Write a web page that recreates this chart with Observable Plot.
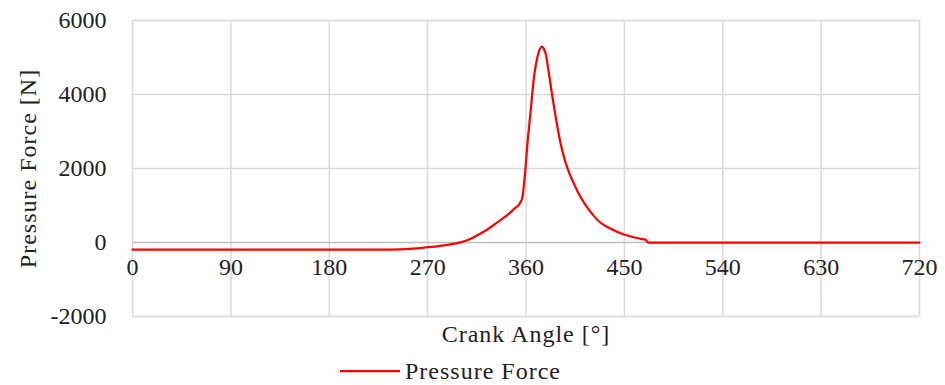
<!DOCTYPE html>
<html><head><meta charset="utf-8">
<script src="https://cdn.jsdelivr.net/npm/d3@7"></script>
<script src="https://cdn.jsdelivr.net/npm/@observablehq/plot@0.6"></script>
<style>
body{margin:0;background:#fff;font-family:"Liberation Serif",serif;}
#legend{position:relative;height:30px;width:945px}
.ttl{letter-spacing:1px}
</style></head><body><div id="chart"></div><div id="legend"></div>
<script>
const angles = [0,90,180,230,245,260,270,280,290,300,310,318,326,334,342,350,354.5,356.7,358.8,361.3,364.3,367.3,370.4,372.5,374.4,376.3,378,381,384.2,387.2,391.7,396,400,404,408,413,418,422,428,437.5,449.6,465,469.5,471.6,540,630,720];
const forces = [-195,-195,-195,-195,-185,-160,-128,-95,-55,5,110,235,380,550,720,930,1062,1225,1765,2667,3568,4468,5008,5220,5297,5240,5100,4560,3930,3387,2667,2180,1850,1580,1330,1080,870,720,540,370,216,100,72,0,0,0,0];
const xTicks = [0,90,180,270,360,450,540,630,720];
const yTicks = [-2000,0,2000,4000,6000];
const seriesName = "Pressure Force";
const xTitle = "Crank Angle [°]";
const yTitle = "Pressure Force [N]";

const data = angles.map((a,i)=>({angle:a, force:forces[i]}));
const FS = 24;
const plot = Plot.plot({
  width:945, height:355, marginLeft:132, marginRight:26, marginTop:20, marginBottom:39,
  style:{fontFamily:"Liberation Serif", fontSize:FS+"px", color:"#222", background:"#fff", overflow:"visible"},
  x:{domain:[0,720], axis:null},
  y:{domain:[-2000,6000]},
  marks:[
    Plot.ruleX(xTicks,{stroke:"#d9d9d9", strokeWidth:1.5}),
    Plot.ruleY(yTicks.filter(d=>d!==0),{stroke:"#d9d9d9", strokeWidth:1.5}),
    Plot.ruleY([0],{stroke:"#bfbfbf", strokeWidth:1.5}),
    Plot.axisY(yTicks,{tickSize:0, tickPadding:26, label:null, fontSize:FS, tickFormat:d=>String(d)}),
    Plot.text(xTicks,{x:d=>d, y:0, dy:25, text:d=>String(d), fontSize:FS, fill:"#222"}),
    Plot.line(data,{x:"angle", y:"force", stroke:"#ff0000", strokeWidth:2.25, curve:"monotone-x"}),
    Plot.text([xTitle],{frameAnchor:"bottom", dy:25, text:d=>d, fontSize:FS, fill:"#222", className:"ttl"}),
    Plot.text([yTitle],{frameAnchor:"left", textAnchor:"middle", dx:-104, rotate:-90, text:d=>d, fontSize:FS, fill:"#222", className:"ttl"})
  ]
});
document.getElementById("chart").appendChild(plot);
document.getElementById("legend").innerHTML =
  `<svg width="945" height="30" style="display:block"><line x1="340" x2="400" y1="16" y2="16" stroke="#ff0000" stroke-width="2.25"/>
   <text x="405" y="16" dominant-baseline="central" font-family="Liberation Serif" font-size="${FS}" letter-spacing="1" fill="#222">${seriesName}</text></svg>`;
</script></body></html>
